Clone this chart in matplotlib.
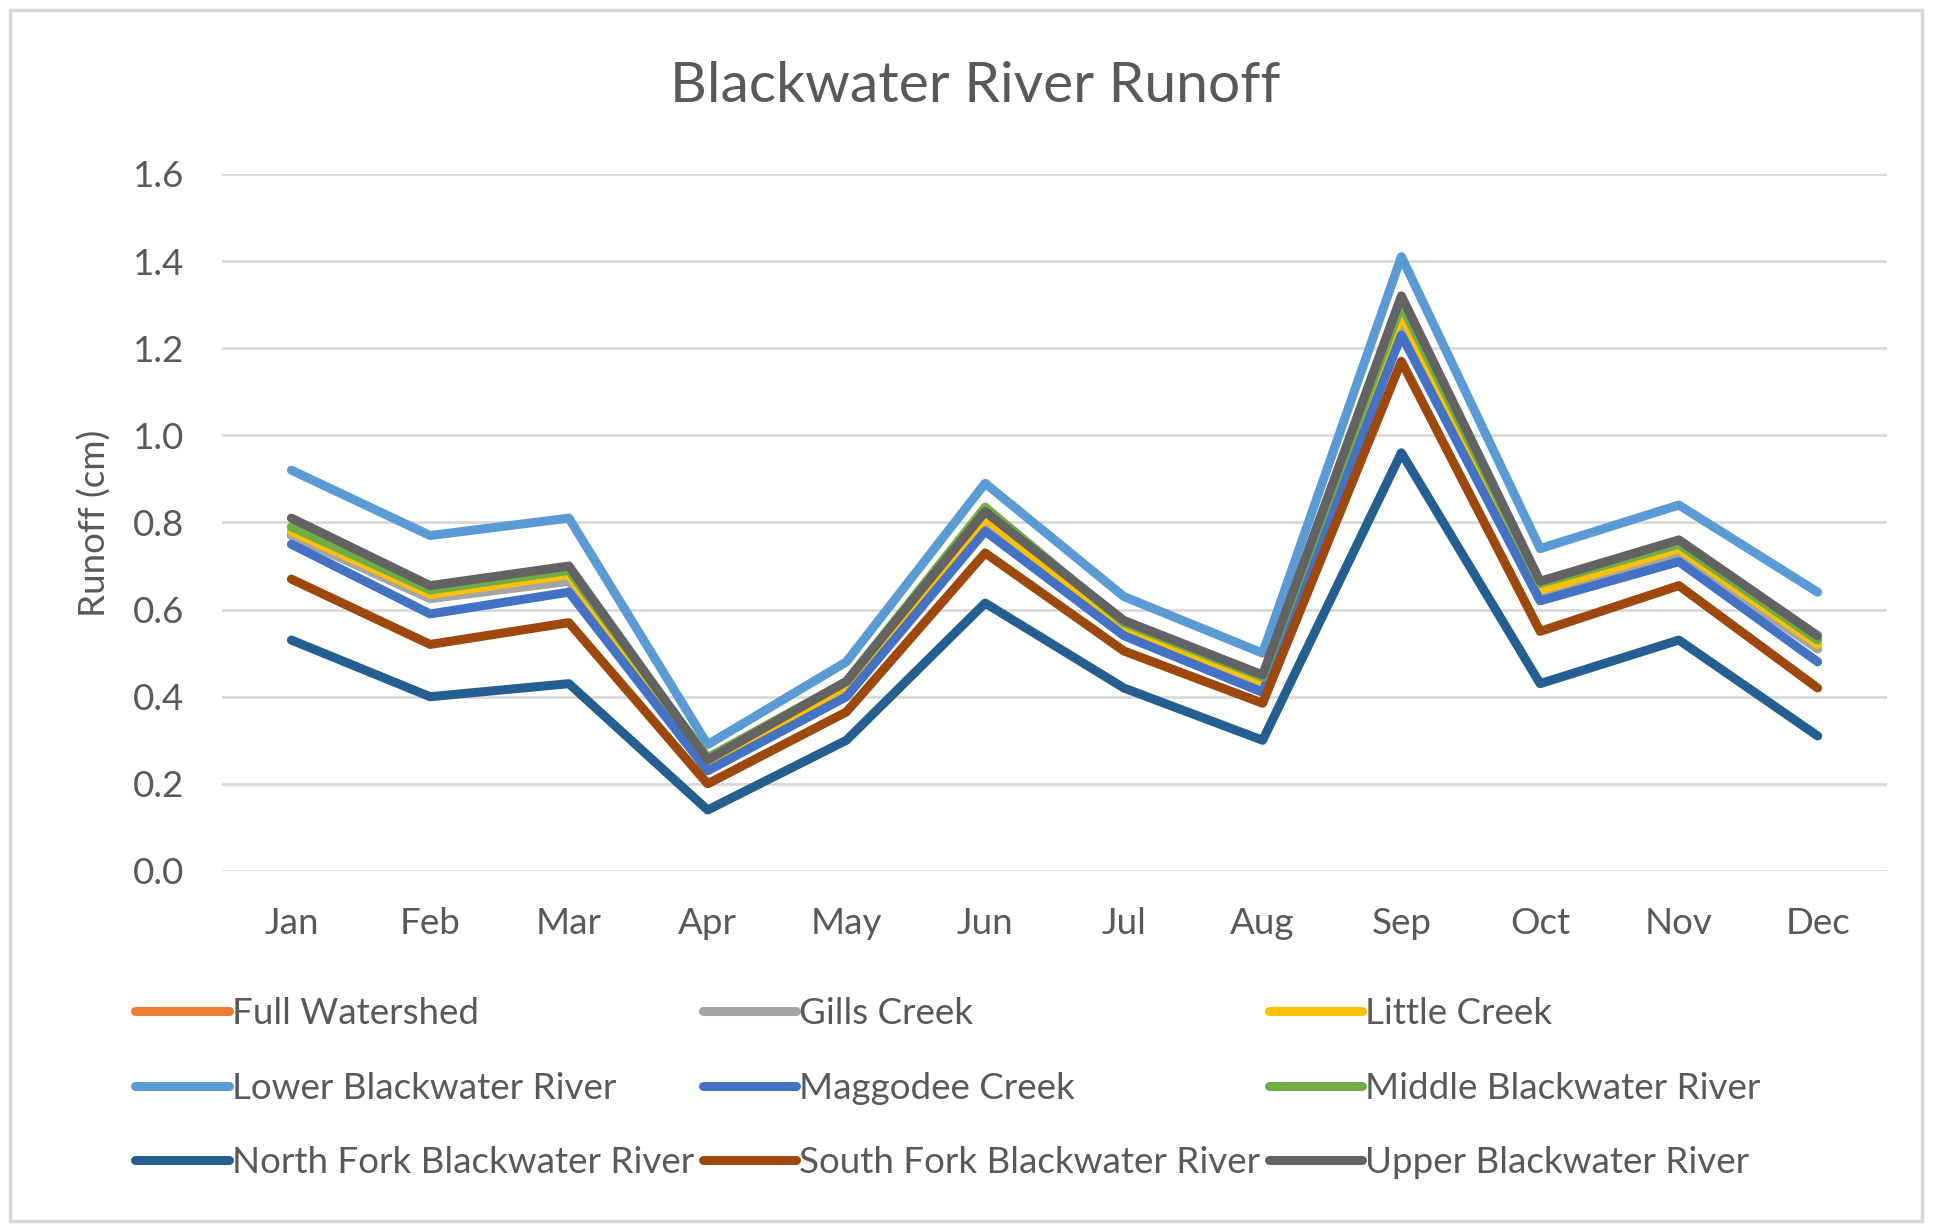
import matplotlib.pyplot as plt
from matplotlib.patches import Rectangle

plt.rcParams['font.family'] = ['Lato', 'DejaVu Sans']

months = ['Jan', 'Feb', 'Mar', 'Apr', 'May', 'Jun', 'Jul', 'Aug', 'Sep', 'Oct', 'Nov', 'Dec']

full_watershed = [0.77, 0.63, 0.67, 0.24, 0.42, 0.80, 0.55, 0.43, 1.26, 0.63, 0.73, 0.51]
gills_creek = [0.77, 0.625, 0.665, 0.24, 0.42, 0.80, 0.55, 0.43, 1.26, 0.63, 0.725, 0.51]
little_creek = [0.78, 0.635, 0.68, 0.245, 0.425, 0.81, 0.56, 0.435, 1.28, 0.645, 0.74, 0.52]
lower_blackwater = [0.92, 0.77, 0.81, 0.29, 0.48, 0.89, 0.63, 0.50, 1.41, 0.74, 0.84, 0.64]
maggodee_creek = [0.75, 0.59, 0.64, 0.23, 0.40, 0.78, 0.54, 0.41, 1.23, 0.62, 0.71, 0.48]
middle_blackwater = [0.79, 0.645, 0.69, 0.26, 0.435, 0.835, 0.57, 0.445, 1.30, 0.66, 0.75, 0.53]
north_fork = [0.53, 0.40, 0.43, 0.14, 0.30, 0.615, 0.42, 0.30, 0.96, 0.43, 0.53, 0.31]
south_fork = [0.67, 0.52, 0.57, 0.20, 0.365, 0.73, 0.505, 0.385, 1.17, 0.55, 0.655, 0.42]
upper_blackwater = [0.81, 0.655, 0.70, 0.255, 0.435, 0.825, 0.575, 0.45, 1.32, 0.665, 0.76, 0.54]

series = [
    ('Full Watershed', full_watershed, '#ED7D31'),
    ('Gills Creek', gills_creek, '#A5A5A5'),
    ('Little Creek', little_creek, '#FFC000'),
    ('Lower Blackwater River', lower_blackwater, '#5B9BD5'),
    ('Maggodee Creek', maggodee_creek, '#4472C4'),
    ('Middle Blackwater River', middle_blackwater, '#70AD47'),
    ('North Fork Blackwater River', north_fork, '#255E91'),
    ('South Fork Blackwater River', south_fork, '#9E480E'),
    ('Upper Blackwater River', upper_blackwater, '#636363'),
]

text_color = '#595959'
grid_color = '#D9D9D9'
fs = 26.5

fig = plt.figure(figsize=(19.34, 12.25), dpi=100)
ax = fig.add_axes([0.1148, 0.2890, 0.8609, 0.5690])

x = range(len(months))
handles = []
for name, vals, color in series:
    line, = ax.plot(x, vals, color=color, lw=6.5, label=name,
                    solid_capstyle='round', solid_joinstyle='round')
    handles.append(line)

ax.set_xlim(-0.5, 11.5)
ax.set_ylim(0, 1.6)
ax.set_yticks([0, 0.2, 0.4, 0.6, 0.8, 1.0, 1.2, 1.4, 1.6])
ax.set_yticklabels([f'{v:.1f}' for v in ax.get_yticks()])
ax.set_xticks(list(x))
ax.set_xticklabels(months)
ax.tick_params(axis='both', length=0, labelsize=fs, labelcolor=text_color)
ax.tick_params(axis='y', pad=27)
ax.tick_params(axis='x', pad=26)
ax.grid(axis='y', color=grid_color, lw=2)
ax.set_axisbelow(True)
for s in ax.spines.values():
    s.set_visible(False)

fig.text(0.049, 0.573, 'Runoff (cm)', rotation=90, ha='center', va='center',
         fontsize=fs, color=text_color)
fig.text(0.504, 0.929, 'Blackwater River Runoff', ha='center', va='center',
         fontsize=41, color=text_color)

# legend fills row by row
order = [0, 3, 6, 1, 4, 7, 2, 5, 8]
leg = fig.legend([handles[i] for i in order], [series[i][0] for i in order],
                 ncol=3, loc='upper left', bbox_to_anchor=(0.070, 0.186),
                 frameon=False, fontsize=fs, handlelength=2.55, handletextpad=0.08,
                 columnspacing=0.22, labelspacing=1.13, borderpad=0, borderaxespad=0)
for t in leg.get_texts():
    t.set_color(text_color)

fig.patches.append(Rectangle((0.005, 0.003), 0.989, 0.989, transform=fig.transFigure,
                             fill=False, edgecolor=grid_color, lw=2.5))

fig.savefig('out.png', dpi=100, facecolor='white')
